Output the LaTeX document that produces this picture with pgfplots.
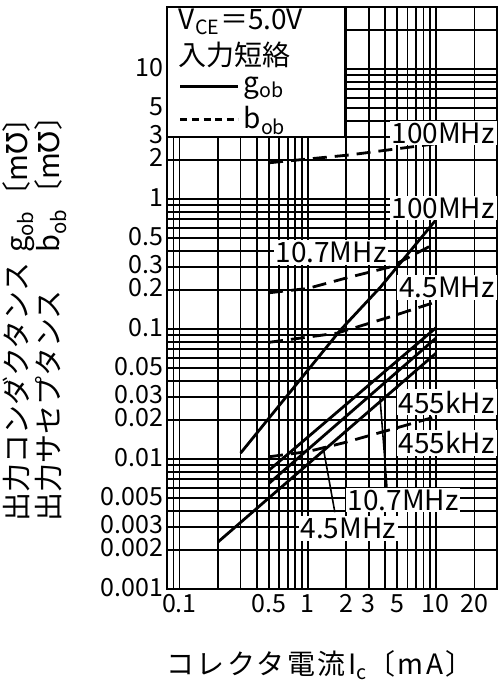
\documentclass[border=0pt]{standalone}
\usepackage{fontspec}
\setmainfont{Noto Sans CJK JP}
\newfontfamily\dejavu{DejaVu Sans}
\usepackage{pgfplots}
\pgfplotsset{compat=1.18}
\newcommand{\mhosym}{{\dejavu ℧}}
\begin{document}
\fontsize{14}{16}\selectfont
\begin{tikzpicture}[font=\fontsize{14}{16}\selectfont]
\begin{axis}[
  name=ax,
  scale only axis, width=165pt, height=291pt,
  xmode=log, ymode=log,
  xmin=0.08, xmax=30, ymin=0.001, ymax=30,
  xtick={0.08,0.09,0.1,0.2,0.3,0.4,0.5,0.6,0.7,0.8,0.9,1,2,3,4,5,6,7,8,9,10,20,30},
  xticklabels={,,0.1,,,,0.5,,,,,1,2,3,,5,,,,,10,20,},
  ytick={0.001,0.002,0.003,0.004,0.005,0.006,0.007,0.008,0.009,
         0.01,0.02,0.03,0.04,0.05,0.06,0.07,0.08,0.09,
         0.1,0.2,0.3,0.4,0.5,0.6,0.7,0.8,0.9,
         1,2,3,4,5,6,7,8,9,10,20,30},
  yticklabels={0.001,0.002,0.003,,0.005,,,,,
               0.01,0.02,0.03,,0.05,,,,,
               0.1,0.2,0.3,,0.5,,,,,
               1,2,3,,5,,,,,10,,},
  grid=major,
  major grid style={black, line width=0.9pt},
  major tick length=0pt,
  axis line style={black, line width=1.3pt},
  /pgf/number format/assume math mode=true,
  tick label style={font=\fontsize{12.5}{13}\selectfont, inner sep=0.3pt, text height=9pt, text depth=0pt},
  yticklabel style={xshift=-1.5pt, yshift=1pt},
  xticklabel style={yshift=-2pt},
  xlabel={\addfontfeatures{LetterSpace=9}コレクタ電流I\textsubscript{c}〔mA〕},
  xlabel style={at={(axis description cs:0.464,-0.131)}, anchor=center, font=\fontsize{14}{16}\selectfont},
  ylabel={\fontsize{14.5}{13}\selectfont\begin{tabular}{@{}l@{\hspace{5pt}}l@{}}出力コンダクタンス & g\textsubscript{ob}〔m\mhosym〕\\ 出力サセプタンス & b\textsubscript{ob}〔m\mhosym〕\end{tabular}},
  ylabel style={at={(axis description cs:-0.40,0.476)}, anchor=center, rotate=0},
  legend style={at={(rel axis cs:0.035,0.888)}, anchor=north west, draw=none, fill=none,
    inner sep=0pt, row sep=1pt, font=\fontsize{14}{14}\selectfont},
  legend cell align=left,
  legend image code/.code={\draw[#1] (0pt,0pt) -- (29pt,0pt);},
  every axis plot/.append style={line width=1.4pt, black},
]
% legend box
\draw[fill=white, line width=1.1pt] (rel axis cs:0,1) rectangle (rel axis cs:0.539,0.777);
\node[anchor=west, inner sep=0pt] at (rel axis cs:0.035,0.974) {V\textsubscript{CE}＝5.0V};
\node[anchor=west, inner sep=0pt] at (rel axis cs:0.035,0.918) {入力短絡};
\addlegendimage{line width=1.4pt, black}
\addlegendentry{g\textsubscript{ob}}
\addlegendimage{line width=1.2pt, black, dash pattern=on 3.5pt off 2.3pt}
\addlegendentry{b\textsubscript{ob}}

% g_ob 100MHz
\addplot[forget plot] coordinates {(0.3,0.0111) (1,0.048) (1.8,0.098) (3.7,0.21) (10,0.69)};
% g_ob 455kHz / 4.5MHz / 10.7MHz bundle
\addplot[forget plot] coordinates {(0.5,0.0082) (10,0.102)};
\addplot[forget plot] coordinates {(0.5,0.0065) (10,0.085)};
\addplot[forget plot] coordinates {(0.2,0.0023) (10,0.065)};
% b_ob curves
\addplot[forget plot, dash pattern=on 7pt off 4pt] coordinates {(0.5,1.9) (2.1,2.18) (9.7,2.65)};
\addplot[forget plot, dash pattern=on 7pt off 4pt] coordinates {(0.5,0.19) (1,0.205) (2.1,0.25) (4.4,0.30) (9.7,0.45)};
\addplot[forget plot, dash pattern=on 7pt off 4pt] coordinates {(0.5,0.079) (1.7,0.093) (4.4,0.124) (9.7,0.16)};
\addplot[forget plot, dash pattern=on 7pt off 4pt] coordinates {(0.5,0.0104) (1,0.0114) (1.9,0.0133) (5.2,0.0176) (9.7,0.021)};

% leaders
\draw[line width=0.8pt] (axis cs:1.63,0.0039) -- (axis cs:1.32,0.0124);
\draw[line width=0.8pt] (axis cs:4.16,0.006) -- (axis cs:3.67,0.0294);

% curve labels
\tikzset{lbl/.style={fill=white, inner sep=1pt, font=\fontsize{14}{14}\selectfont}}
\node[lbl, anchor=east] at (axis cs:30,3.22) {100MHz};
\node[lbl, anchor=east] at (axis cs:30,0.853) {100MHz};
\node[lbl] at (axis cs:1.52,0.385) {10.7MHz};
\node[lbl, anchor=east] at (axis cs:30,0.21) {4.5MHz};
\node[lbl, anchor=east] at (axis cs:30,0.0274) {455kHz};
\node[lbl, anchor=east] at (axis cs:30,0.0133) {455kHz};
\node[lbl] at (axis cs:5.55,0.00484) {10.7MHz};
\node[lbl] at (axis cs:2.07,0.00294) {4.5MHz};
\end{axis}
\pgfresetboundingbox
\path ([shift={(-83.5pt,-49.5pt)}]ax.south west) rectangle ([shift={(1pt,3.5pt)}]ax.north east);
\end{tikzpicture}
\end{document}
